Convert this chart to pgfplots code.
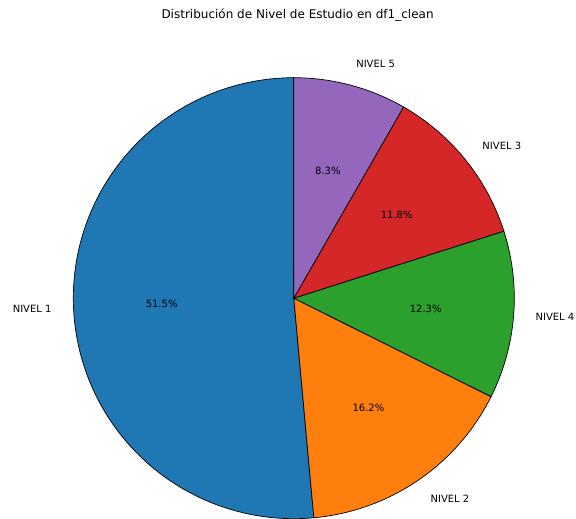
\documentclass[border=0pt]{standalone}
\usepackage{fontspec}
\setmainfont{DejaVu Sans}
\usepackage{pgfplots}
\pgfplotsset{compat=1.18}
\definecolor{cA}{HTML}{1F77B4}
\definecolor{cB}{HTML}{FF7F0E}
\definecolor{cC}{HTML}{2CA02C}
\definecolor{cD}{HTML}{D62728}
\definecolor{cE}{HTML}{9467BD}
\tikzset{lbl/.style={font=\fontsize{10bp}{12bp}\selectfont, inner sep=0pt, outer sep=0pt}}
\begin{document}
\begin{tikzpicture}
% values (percent) in plotting order
\def\vA{51.5}% NIVEL 1
\def\vB{16.2}% NIVEL 2
\def\vC{12.3}% NIVEL 4
\def\vD{11.8}% NIVEL 3
\def\vE{8.3}%  NIVEL 5
\pgfmathsetmacro\tot{\vA+\vB+\vC+\vD+\vE}
\pgfmathsetmacro\aA{90}
\pgfmathsetmacro\aB{\aA+\vA/\tot*360}
\pgfmathsetmacro\aC{\aB+\vB/\tot*360}
\pgfmathsetmacro\aD{\aC+\vC/\tot*360}
\pgfmathsetmacro\aE{\aD+\vD/\tot*360}
\pgfmathsetmacro\aF{\aE+\vE/\tot*360}
\pgfmathsetmacro\mA{(\aA+\aB)/2}
\pgfmathsetmacro\mB{(\aB+\aC)/2}
\pgfmathsetmacro\mC{(\aC+\aD)/2}
\pgfmathsetmacro\mD{(\aD+\aE)/2}
\pgfmathsetmacro\mE{(\aE+\aF)/2}
\begin{axis}[
  width=576bp, height=519bp, scale only axis, hide axis,
  xmin=-1.3324, xmax=1.2798, ymin=-1.0014, ymax=1.3524,
  clip=false,
]
\addplot[fill=cA, draw=black, line width=0.7pt, domain=\aA:\aB, samples=150] ({cos(x)},{sin(x)}) -- (0,0) -- cycle;
\addplot[fill=cB, draw=black, line width=0.7pt, domain=\aB:\aC, samples=60] ({cos(x)},{sin(x)}) -- (0,0) -- cycle;
\addplot[fill=cC, draw=black, line width=0.7pt, domain=\aC:\aD, samples=50] ({cos(x)},{sin(x)}) -- (0,0) -- cycle;
\addplot[fill=cD, draw=black, line width=0.7pt, domain=\aD:\aE, samples=50] ({cos(x)},{sin(x)}) -- (0,0) -- cycle;
\addplot[fill=cE, draw=black, line width=0.7pt, domain=\aE:\aF, samples=40] ({cos(x)},{sin(x)}) -- (0,0) -- cycle;
% percentage labels
\node[lbl] at (axis cs:{0.6*cos(\mA)},{0.6*sin(\mA)}) {51.5\%};
\node[lbl] at (axis cs:{0.6*cos(\mB)},{0.6*sin(\mB)}) {16.2\%};
\node[lbl] at (axis cs:{0.6*cos(\mC)},{0.6*sin(\mC)}) {12.3\%};
\node[lbl] at (axis cs:{0.6*cos(\mD)},{0.6*sin(\mD)}) {11.8\%};
\node[lbl] at (axis cs:{0.6*cos(\mE)},{0.6*sin(\mE)}) {8.3\%};
% category labels
\node[lbl, anchor=east] at (axis cs:{1.1*cos(\mA)},{1.1*sin(\mA)}) {NIVEL 1};
\node[lbl, anchor=west] at (axis cs:{1.1*cos(\mB)},{1.1*sin(\mB)}) {NIVEL 2};
\node[lbl, anchor=west] at (axis cs:{1.1*cos(\mC)},{1.1*sin(\mC)}) {NIVEL 4};
\node[lbl, anchor=west] at (axis cs:{1.1*cos(\mD)},{1.1*sin(\mD)}) {NIVEL 3};
\node[lbl, anchor=west] at (axis cs:{1.1*cos(\mE)},{1.1*sin(\mE)}) {NIVEL 5};
% title
\node[lbl, font=\fontsize{12bp}{14bp}\selectfont] at (axis cs:0.017,1.2844) {Distribución de Nivel de Estudio en df1\_clean};
\coordinate (sw) at (rel axis cs:0,0);
\coordinate (ne) at (rel axis cs:1,1);
\end{axis}
\pgfresetboundingbox
\path (sw) rectangle (ne);
\end{tikzpicture}
\end{document}
